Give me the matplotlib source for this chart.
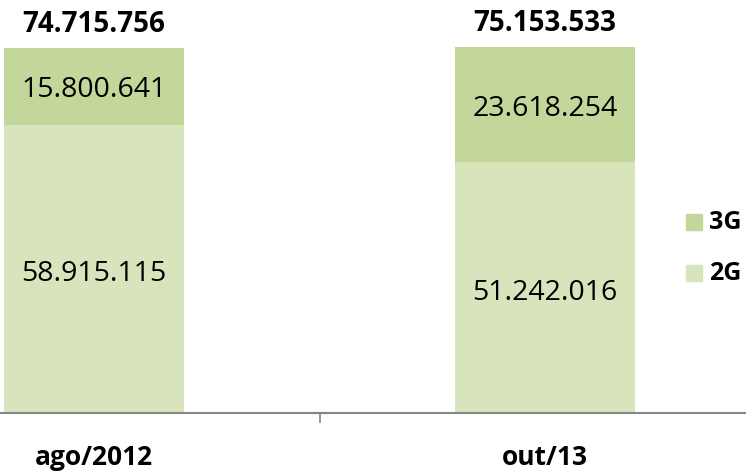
import matplotlib.pyplot as plt
from matplotlib.patches import Rectangle

# Data
categories = ['ago/2012', 'out/13']
values_2g = [58915115, 51242016]
values_3g = [15800641, 23618254]
totals = [74715756, 75153533]  # totals as printed on the original chart
series = ['3G', '2G']

color_3g = '#C4D79B'
color_2g = '#D8E4BC'
font = ['Open Sans', 'DejaVu Sans']


def fmt(v):
    return f'{v:,}'.replace(',', '.')


fig = plt.figure(figsize=(7.46, 4.72), dpi=100)
ax = fig.add_axes([0, 59 / 472, 1, 413 / 472])

x = list(range(len(categories)))
m2 = [v / 1e6 for v in values_2g]
m3 = [v / 1e6 for v in values_3g]

ax.bar(x, m2, width=0.4, color=color_2g, label='2G')
ax.bar(x, m3, width=0.4, bottom=m2, color=color_3g, label='3G')

for i in x:
    ax.annotate(fmt(values_2g[i]), (i, m2[i] / 2), xytext=(0, -3.5),
                textcoords='offset points', ha='center', va='center',
                fontsize=20.5, family=font, color='black')
    ax.annotate(fmt(values_3g[i]), (i, m2[i] + m3[i] / 2), xytext=(0, -3),
                textcoords='offset points', ha='center', va='center',
                fontsize=20.5, family=font, color='black')
    ax.annotate(fmt(totals[i]), (i, m2[i] + m3[i]), xytext=(0, 17),
                textcoords='offset points', ha='center', va='center',
                fontsize=20, fontweight='bold', family=font)

ax.set_xlim((0 - 94) / 451, (746 - 94) / 451)
ax.set_ylim(0, 413 / 4.89)

for s in ['top', 'right', 'left']:
    ax.spines[s].set_visible(False)
ax.spines['bottom'].set_color('#868686')
ax.spines['bottom'].set_linewidth(1.5)
ax.set_yticks([])
ax.set_xticks(x)
ax.set_xticklabels(categories, fontsize=19, fontweight='bold', family=font)
ax.tick_params(axis='x', which='major', length=0, pad=22)
ax.set_xticks([0.5], minor=True)
ax.tick_params(axis='x', which='minor', length=7, width=1.2, color='#868686')

# legend drawn manually at the right edge
for name, col, yc in [('3G', color_3g, 222), ('2G', color_2g, 273)]:
    fig.patches.append(Rectangle((686 / 746, 1 - (yc + 8) / 472), 16 / 746, 16 / 472,
                                 transform=fig.transFigure, color=col))
    fig.text(709 / 746, 1 - yc / 472, name, ha='left', va='center',
             fontsize=18, fontweight='bold', family=font)

fig.savefig('out.png', dpi=100)
